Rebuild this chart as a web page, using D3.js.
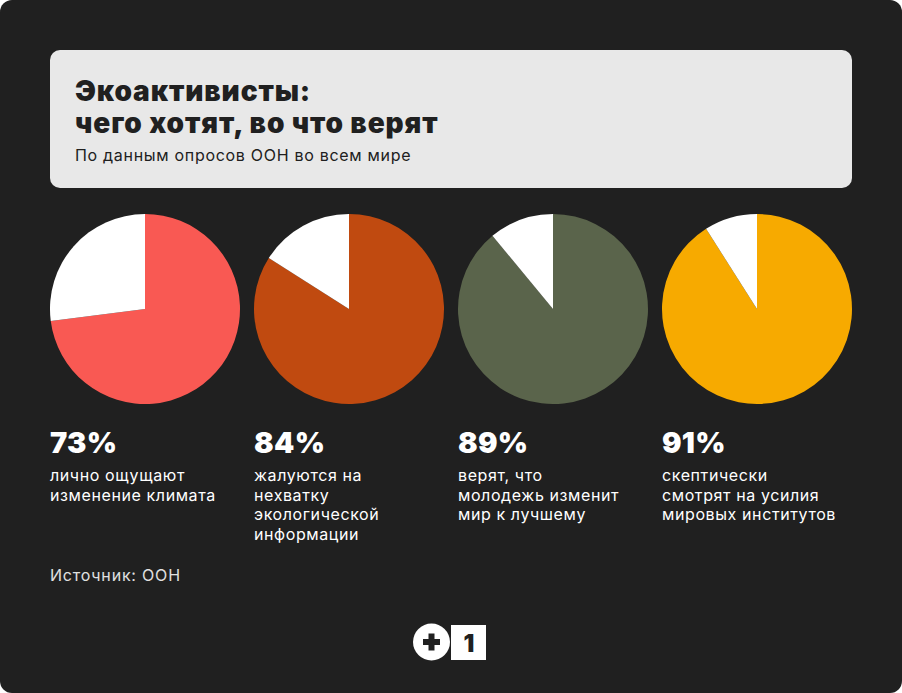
<!DOCTYPE html>
<html>
<head>
<meta charset="utf-8">
<style>
  html, body { margin: 0; padding: 0; background: #ffffff; }
  svg { display: block; }
</style>
</head>
<body>
<div id="chart"></div>
<script src="https://d3js.org/d3.v7.min.js"></script>
<script>
  // data
  const values = [73, 84, 89, 91];
  const colors = ['#F95953', '#C04A10', '#5A644B', '#F7AA00'];
  const labels = [
    ['лично ощущают', 'изменение климата'],
    ['жалуются на', 'нехватку', 'экологической', 'информации'],
    ['верят, что', 'молодежь изменит', 'мир к лучшему'],
    ['скептически', 'смотрят на усилия', 'мировых институтов'],
  ];
  const titleLines = ['Экоактивисты:', 'чего хотят, во что верят'];
  const subtitle = 'По данным опросов ООН во всем мире';
  const source = 'Источник: ООН';

  const width = 902, height = 693;
  const font = 'Inter, "Noto Sans", sans-serif';

  const svg = d3.select('#chart').append('svg')
    .attr('width', width)
    .attr('height', height);

  svg.append('rect')
    .attr('width', width).attr('height', height)
    .attr('rx', 12)
    .attr('fill', '#202020');

  // header card
  svg.append('rect')
    .attr('x', 50).attr('y', 50)
    .attr('width', 802).attr('height', 138)
    .attr('rx', 10)
    .attr('fill', '#E8E8E8');

  svg.selectAll('.title')
    .data(titleLines)
    .enter().append('text')
    .attr('class', 'title')
    .attr('x', 75)
    .attr('y', (d, i) => 101 + i * 32)
    .attr('font-family', font)
    .attr('font-weight', 900)
    .attr('font-size', 28)
    .attr('letter-spacing', '0.9px')
    .attr('fill', '#202020')
    .text(d => d);

  svg.append('text')
    .attr('x', 75).attr('y', 161)
    .attr('font-family', font)
    .attr('font-size', 16)
    .attr('letter-spacing', '0.7px')
    .attr('fill', '#202020')
    .text(subtitle);

  // pies
  const x = d3.scaleBand()
    .domain(d3.range(values.length))
    .range([50, 866])
    .paddingInner(0);
  const r = 95;
  const pie = d3.pie().sort(null);
  const arc = d3.arc().innerRadius(0).outerRadius(r);

  const groups = svg.selectAll('.pie')
    .data(values)
    .enter().append('g')
    .attr('class', 'pie')
    .attr('transform', (d, i) => `translate(${x(i) + r},309)`);

  groups.each(function (v, i) {
    const g = d3.select(this);
    g.selectAll('path')
      .data(pie([v, 100 - v]))
      .enter().append('path')
      .attr('d', arc)
      .attr('fill', (d, j) => j === 0 ? colors[i] : '#FFFFFF');
  });

  // numbers and captions
  const cap = svg.selectAll('.cap')
    .data(values)
    .enter().append('g')
    .attr('class', 'cap')
    .attr('transform', (d, i) => `translate(${x(i)},0)`);

  cap.append('text')
    .attr('y', 453)
    .attr('font-family', font)
    .attr('font-weight', 900)
    .attr('font-size', 29)
    .attr('letter-spacing', '0.3px')
    .attr('fill', '#FFFFFF')
    .text(d => d + '%');

  cap.each(function (v, i) {
    d3.select(this).selectAll('.line')
      .data(labels[i])
      .enter().append('text')
      .attr('class', 'line')
      .attr('y', (d, j) => 481 + j * 19.5)
      .attr('font-family', font)
      .attr('font-size', 16)
      .attr('letter-spacing', '0.6px')
      .attr('fill', '#FFFFFF')
      .text(d => d);
  });

  svg.append('text')
    .attr('x', 50).attr('y', 581)
    .attr('font-family', font)
    .attr('font-size', 16)
    .attr('letter-spacing', '0.8px')
    .attr('fill', '#E0E0E0')
    .text(source);

  // logo
  const logo = svg.append('g');
  logo.append('circle')
    .attr('cx', 431.5).attr('cy', 642)
    .attr('r', 18.5)
    .attr('fill', '#FFFFFF');
  logo.append('rect').attr('x', 423).attr('y', 639).attr('width', 17).attr('height', 6).attr('fill', '#202020');
  logo.append('rect').attr('x', 428.5).attr('y', 633.5).attr('width', 6).attr('height', 17).attr('fill', '#202020');
  logo.append('rect')
    .attr('x', 451).attr('y', 625)
    .attr('width', 35).attr('height', 35)
    .attr('fill', '#FFFFFF');
  logo.append('text')
    .attr('x', 469).attr('y', 652)
    .attr('text-anchor', 'middle')
    .attr('font-family', font)
    .attr('font-weight', 900)
    .attr('font-size', 24)
    .attr('fill', '#202020')
    .text('1');
</script>
</body>
</html>
